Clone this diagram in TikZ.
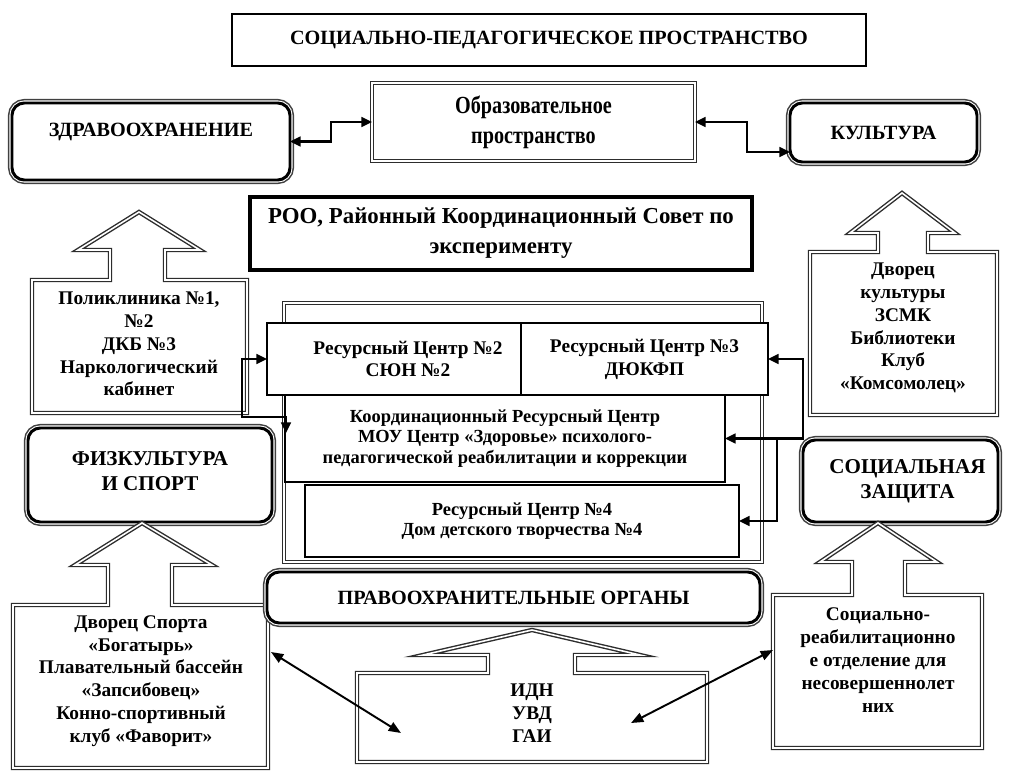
\documentclass[tikz,border=0pt]{standalone}
\usepackage{fontspec}
\setmainfont{Liberation Serif}
\newfontfamily\condfont[FakeStretch=0.82]{Liberation Serif}
\usetikzlibrary{arrows.meta}

\tikzset{
  sz/.style 2 args={minimum width=#1*0.02cm, minimum height=#2*0.02cm},
  base/.style={inner sep=0pt, outer sep=0pt, align=center,
    font=\bfseries\fontsize{11}{13}\selectfont},
  thickbox/.style={base, rectangle, draw=black, line width=1.5pt, fill=white},
  dblbox/.style={base, rectangle, draw=gray!35!black, line width=0.8pt,
    double=white, double distance=0.9pt, fill=white},
  dbl/.style={draw=gray!35!black, line width=0.8pt, double=white, double distance=0.9pt},
  rbox/.style={base, rectangle, rounded corners=7pt, fill=white, draw=black, line width=1.7pt,
    preaction={draw=gray!50!black, line width=4.6pt},
    preaction={draw=white, line width=2.9pt}},
  txt/.style={base},
  conn/.style={line width=1.4pt, >={Triangle[length=6pt,width=5.5pt]}},
  diag/.style={line width=1.1pt, >={Triangle[length=7pt,width=5.5pt]}},
}

\begin{document}
\begin{tikzpicture}[x=0.02cm, y=-0.02cm]
\useasboundingbox (0,0) rectangle (1009,771);
\fill[white] (0,0) rectangle (1009,771);

% title
\node[thickbox, sz={634}{52}, font=\bfseries\fontsize{11.5}{13}\selectfont] (title) at (549,40)
  {СОЦИАЛЬНО-ПЕДАГОГИЧЕСКОЕ ПРОСТРАНСТВО};

% upper row
\node[rbox, sz={278}{77}, label={[base, font=\bfseries\fontsize{11.5}{13}\selectfont, yshift=0.19cm]center:ЗДРАВООХРАНЕНИЕ}] (zdrav) at (151,141.5) {};
\node[dblbox, sz={323}{78}, font=\condfont\bfseries\fontsize{14}{17}\selectfont] (obraz) at (533.5,122)
  {Образовательное\\пространство};
\node[rbox, sz={187}{59}, font=\bfseries\fontsize{11.5}{13}\selectfont] (kult) at (883.5,132.5) {КУЛЬТУРА};

\draw[conn,<->] (zdrav.east) -- ++(41,0) |- (obraz.west);
\coordinate (kultin) at (790,152);
\draw[conn,<->] (obraz.east) -- (747,122) |- (kultin);

% council
\node[thickbox, line width=1.8pt, sz={502}{73}, font=\bfseries\fontsize{13}{17}\selectfont] (roo) at (501,233.5)
  {РОО, Районный Координационный Совет по\\эксперименту};

% health institutions
\draw[dbl, fill=white] (32,280) -- (110,280) -- (110,250) -- (78,250) -- (139,212) -- (200,250)
  -- (165,250) -- (165,280) -- (247,280) -- (247,413) -- (32,413) -- cycle;
\node[txt] (polik) at (139,344) {Поликлиника №1,\\№2\\ДКБ №3\\Наркологический\\кабинет};

% culture institutions
\draw[dbl, fill=white] (810,252) -- (878,252) -- (878,233) -- (850,233) -- (902,193) -- (955,233)
  -- (928,233) -- (928,252) -- (997,252) -- (997,415) -- (810,415) -- cycle;
\node[txt] (dvorec) at (903,328) {Дворец\\культуры\\ЗСМК\\Библиотеки\\Клуб\\«Комсомолец»};

% resource centres
\node[dblbox, sz={478}{259}] (frame) at (523,432.5) {};
\node[thickbox, sz={254}{72}, label={[base, xshift=0.28cm]center:{Ресурсный Центр №2\\СЮН №2}}] (rc2) at (394,359) {};
\node[thickbox, sz={247}{72}] (rc3) at (644.5,359) {Ресурсный Центр №3\\ДЮКФП};
\node[thickbox, sz={440}{87}, font=\bfseries\fontsize{10.5}{11.8}\selectfont] (coord) at (505,438.5)
  {Координационный Ресурсный Центр\\МОУ Центр «Здоровье» психолого-\\педагогической реабилитации и коррекции};
\node[thickbox, sz={434}{72}, font=\bfseries\fontsize{10.5}{11.8}\selectfont] (rc4) at (522,521)
  {Ресурсный Центр №4\\Дом детского творчества №4};

% links into the resource centres
\coordinate (lj1) at (242,359);
\coordinate (lj2) at (242,417);
\coordinate (lj3) at (286,417);
\coordinate (lj4) at (286,433);
\draw[conn,<->] (rc2.west) -- (lj1) -- (lj2) -- (lj3) -- (lj4);
\coordinate (rj) at (803,438.5);
\draw[conn,<->] (rc3.east) -| (rj) -- (coord.east);
\coordinate (rj2) at (777,438.5);
\draw[conn,->] (rj2) |- (rc4.east);

% sport
\node[rbox, sz={244}{94}, label={[base, font=\bfseries\fontsize{12}{14}\selectfont, yshift=0.08cm]center:{ФИЗКУЛЬТУРА\\И СПОРТ}}] (sport) at (150,475) {};
\draw[dbl, fill=white] (13,605) -- (108,605) -- (108,565) -- (75,565) -- (142,523) -- (212,565)
  -- (172,565) -- (172,605) -- (268,605) -- (268,768) -- (13,768) -- cycle;
\node[txt] (sportins) at (141,681)
  {Дворец Спорта\\«Богатырь»\\Плавательный бассейн\\«Запсибовец»\\Конно-спортивный\\клуб «Фаворит»};

% social protection
\node[rbox, sz={195}{82}, label={[base, font=\bfseries\fontsize{12}{14}\selectfont, xshift=0.14cm]center:{СОЦИАЛЬНАЯ\\ЗАЩИТА}}] (socz) at (900.5,481) {};
\draw[dbl, fill=white] (773,595) -- (852,595) -- (852,562) -- (820,562) -- (878,523) -- (937,562)
  -- (905,562) -- (905,595) -- (982,595) -- (982,748) -- (773,748) -- cycle;
\node[txt] (socins) at (878,660)
  {Социально-\\реабилитационно\\е отделение для\\несовершеннолет\\них};

% law enforcement
\node[rbox, sz={493}{51}, font=\bfseries\fontsize{11.5}{13}\selectfont] (pravo) at (513.5,597.5)
  {ПРАВООХРАНИТЕЛЬНЫЕ ОРГАНЫ};
\draw[dbl, fill=white] (357,673) -- (488,673) -- (488,655) -- (423,655) -- (532,630) -- (640,655)
  -- (575,655) -- (575,673) -- (707,673) -- (707,762) -- (357,762) -- cycle;
\node[txt] (idn) at (532,713) {ИДН\\УВД\\ГАИ};

% diagonal links
\coordinate (sportR) at (271,652);
\coordinate (idnL) at (401,733);
\coordinate (socL) at (773,650);
\coordinate (idnR) at (631,723);
\draw[diag,<->] (sportR) -- (idnL);
\draw[diag,<->] (socL) -- (idnR);
\end{tikzpicture}
\end{document}
